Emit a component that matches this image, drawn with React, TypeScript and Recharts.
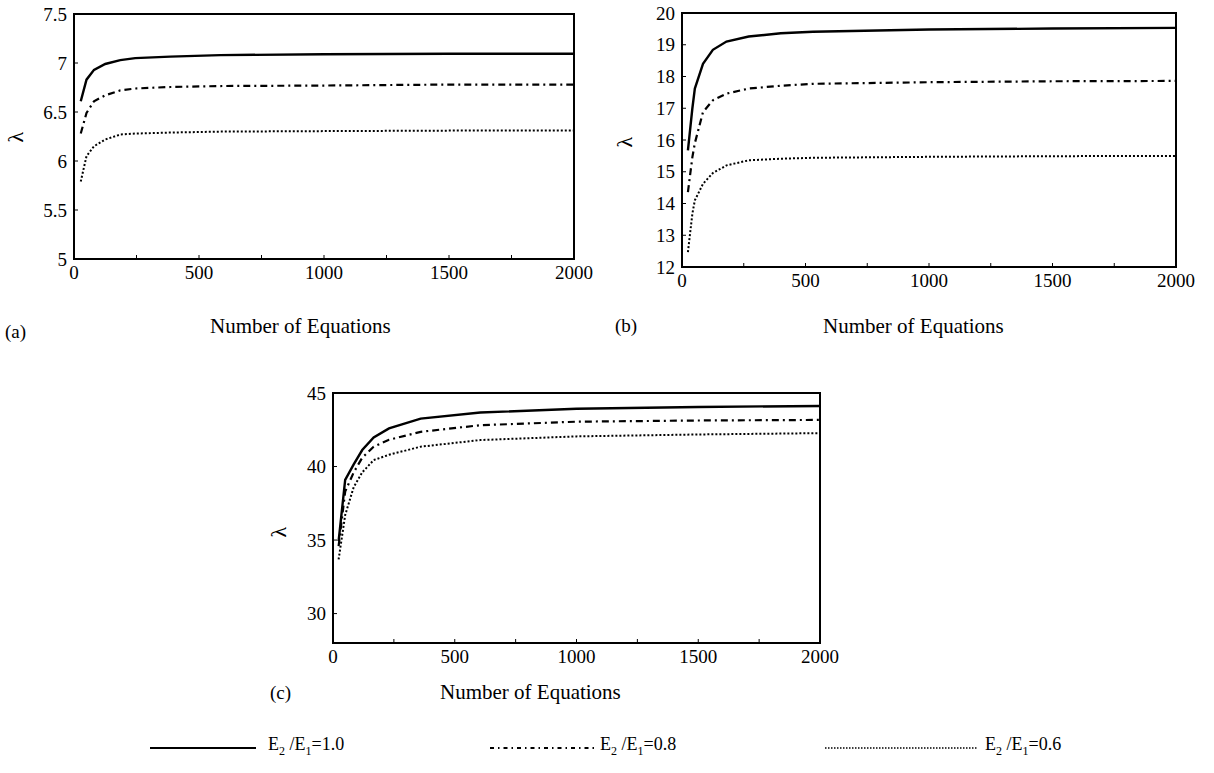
import React from 'react';
import { LineChart, Line, XAxis, YAxis, ReferenceArea } from 'recharts';

// ---- Panel (a) ----
const xA = [27, 50, 80, 125, 185, 245, 385, 585, 1000, 1500, 2000];
const a10 = [6.61, 6.83, 6.93, 6.99, 7.03, 7.05, 7.065, 7.08, 7.09, 7.095, 7.095];
const a08 = [6.28, 6.49, 6.61, 6.67, 6.72, 6.74, 6.755, 6.765, 6.77, 6.78, 6.78];
const a06 = [5.79, 6.05, 6.15, 6.22, 6.27, 6.28, 6.29, 6.3, 6.305, 6.31, 6.31];
const yTicksA = [5, 5.5, 6, 6.5, 7, 7.5];

// ---- Panel (b) ----
const xB = [24, 42, 52, 85, 125, 180, 270, 400, 530, 1000, 1500, 2000];
const b10 = [15.67, 17.0, 17.62, 18.4, 18.84, 19.1, 19.26, 19.36, 19.41, 19.48, 19.51, 19.53];
const b08 = [14.36, 15.46, 15.9, 16.88, 17.25, 17.46, 17.62, 17.71, 17.77, 17.82, 17.85, 17.86];
const b06 = [12.47, 13.68, 14.1, 14.62, 14.96, 15.2, 15.36, 15.41, 15.44, 15.47, 15.49, 15.5];
const yTicksB = [12, 13, 14, 15, 16, 17, 18, 19, 20];

// ---- Panel (c) ----
const xC = [23, 50, 85, 120, 167, 230, 360, 605, 1000, 1500, 2000];
const c10 = [34.92, 39.09, 40.15, 41.12, 41.98, 42.59, 43.26, 43.67, 43.93, 44.05, 44.12];
const c08 = [34.58, 38.3, 39.6, 40.6, 41.35, 41.82, 42.36, 42.81, 43.05, 43.13, 43.17];
const c06 = [33.68, 36.7, 38.6, 39.6, 40.44, 40.8, 41.35, 41.8, 42.05, 42.18, 42.27];
const yTicksC = [30, 35, 40, 45];

const xTicks = [0, 250, 500, 750, 1000, 1250, 1500, 1750, 2000];
const ratioLabels = ['1.0', '0.8', '0.6'];

const FONT = '"Liberation Serif", "Times New Roman", serif';

const build = (xs: number[], s1: number[], s2: number[], s3: number[]) =>
  xs.map((n, i) => ({ n, r10: s1[i], r08: s2[i], r06: s3[i] }));

type PanelProps = {
  left: number; top: number; width: number; height: number;
  mTop: number; mRight: number; yW: number; xH: number;
  data: any[]; yDomain: [number, number]; yTicks: number[];
};

const Panel = (p: PanelProps) => (
  <div style={{ position: 'absolute', left: p.left, top: p.top }}>
    <LineChart width={p.width} height={p.height} data={p.data}
      margin={{ top: p.mTop, right: p.mRight, left: 0, bottom: 0 }}>
      <XAxis type="number" dataKey="n" domain={[0, 2000]} ticks={xTicks}
        tickFormatter={(v: number) => (v % 500 === 0 ? String(v) : '')}
        tickSize={-4} tickMargin={11} height={p.xH} interval={0}
        axisLine={{ stroke: '#000', strokeWidth: 2 }}
        tickLine={{ stroke: '#000' }}
        tick={{ fill: '#000', fontSize: 19, fontFamily: FONT }} />
      <YAxis type="number" domain={p.yDomain} ticks={p.yTicks} width={p.yW}
        tickSize={-4} tickMargin={11} allowDataOverflow interval={0}
        axisLine={{ stroke: '#000', strokeWidth: 2 }}
        tickLine={{ stroke: '#000' }}
        tick={{ fill: '#000', fontSize: 19, fontFamily: FONT }} />
      <ReferenceArea x1={0} x2={2000} y1={p.yDomain[0]} y2={p.yDomain[1]}
        fill="none" stroke="#000" strokeWidth={2} fillOpacity={0} />
      <Line type="linear" dataKey="r10" stroke="#000" strokeWidth={2.4} dot={false} isAnimationActive={false} />
      <Line type="linear" dataKey="r08" stroke="#000" strokeWidth={2.2} strokeDasharray="7 4 2 4" dot={false} isAnimationActive={false} />
      <Line type="linear" dataKey="r06" stroke="#000" strokeWidth={2} strokeDasharray="2 2" dot={false} isAnimationActive={false} />
    </LineChart>
  </div>
);

const Txt = ({ x, y, size, children, rotate }: any) => (
  <div style={{
    position: 'absolute', left: x, top: y - size * 0.6, fontSize: size, lineHeight: `${size * 1.2}px`,
    fontFamily: FONT, color: '#000', whiteSpace: 'nowrap',
    transform: rotate ? `translate(-50%, 0) rotate(${rotate}deg)` : undefined,
    transformOrigin: 'center center',
  }}>{children}</div>
);

const Ratio = ({ v }: { v: string }) => (
  <span>E<sub style={{ fontSize: 12 }}>2</sub> /E<sub style={{ fontSize: 12 }}>1</sub>={v}</span>
);

const LegendRow = () => (
  <div style={{ position: 'absolute', left: 0, top: 0, width: 1214, height: 773 }}>
    <svg width={1214} height={773} style={{ position: 'absolute', left: 0, top: 0 }}>
      <line x1={150} x2={256} y1={748} y2={748} stroke="#000" strokeWidth={2} />
      <line x1={490} x2={598} y1={748} y2={748} stroke="#000" strokeWidth={2} strokeDasharray="4 4 1.5 4" />
      <line x1={825} x2={978} y1={748} y2={748} stroke="#000" strokeWidth={1.6} strokeDasharray="1.5 1.5" />
    </svg>
    <Txt x={268} y={745} size={18}><Ratio v={ratioLabels[0]} /></Txt>
    <Txt x={600} y={745} size={18}><Ratio v={ratioLabels[1]} /></Txt>
    <Txt x={985} y={745} size={18}><Ratio v={ratioLabels[2]} /></Txt>
  </div>
);

export default function App() {
  return (
    <div style={{ position: 'absolute', left: 0, top: 0, width: 1214, height: 773, background: '#fff', overflow: 'hidden' }}>
      <Panel left={0} top={0} width={600} height={300} mTop={14} mRight={26} yW={74} xH={41}
        data={build(xA, a10, a08, a06)} yDomain={[5, 7.5]} yTicks={yTicksA} />
      <Panel left={600} top={0} width={600} height={300} mTop={13} mRight={24} yW={82} xH={33}
        data={build(xB, b10, b08, b06)} yDomain={[12, 20]} yTicks={yTicksB} />
      <Panel left={250} top={380} width={600} height={300} mTop={13} mRight={30} yW={83} xH={37}
        data={build(xC, c10, c08, c06)} yDomain={[28, 45]} yTicks={yTicksC} />

      <Txt x={16} y={137} size={22} rotate={-90}>λ</Txt>
      <Txt x={625} y={142} size={22} rotate={-90}>λ</Txt>
      <Txt x={279} y={532} size={22} rotate={-90}>λ</Txt>

      <Txt x={5} y={332} size={19}>(a)</Txt>
      <Txt x={210} y={327} size={21}>Number of Equations</Txt>
      <Txt x={615} y={326} size={19}>(b)</Txt>
      <Txt x={823} y={327} size={21}>Number of Equations</Txt>
      <Txt x={270} y={693} size={19}>(c)</Txt>
      <Txt x={440} y={693} size={21}>Number of Equations</Txt>

      <LegendRow />
    </div>
  );
}
